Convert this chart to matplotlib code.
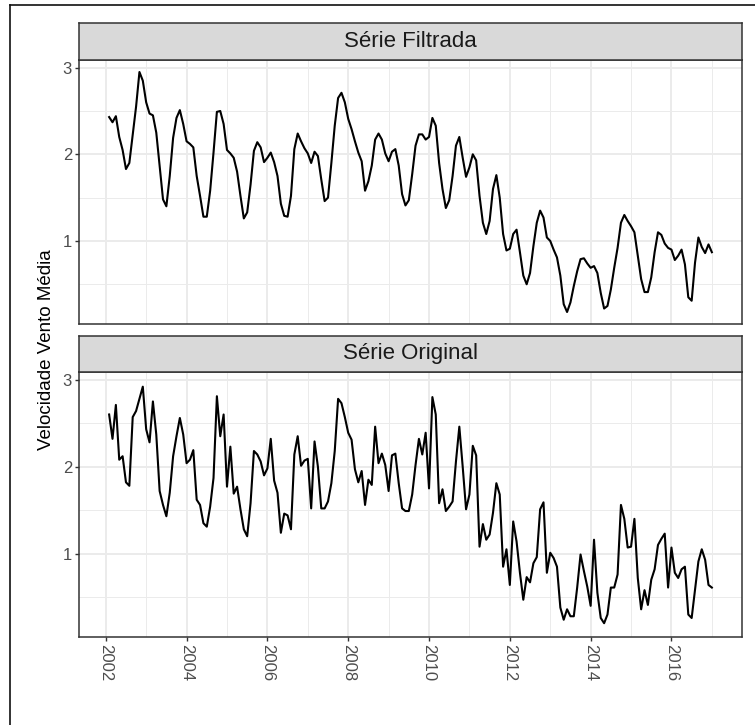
import matplotlib
matplotlib.use("Agg")
from matplotlib import pyplot as plt
from matplotlib.lines import Line2D
import numpy as np

plt.rcParams['font.family'] = ['Liberation Sans', 'DejaVu Sans']

# monthly mean wind speed, Jan 2002 .. Dec 2016
filtrada = [
    2.43, 2.37, 2.44, 2.20, 2.05, 1.83, 1.90, 2.23, 2.55, 2.95,
    2.85, 2.60, 2.47, 2.45, 2.25, 1.87, 1.48, 1.40, 1.75, 2.19,
    2.42, 2.51, 2.35, 2.15, 2.12, 2.08, 1.75, 1.52, 1.28, 1.28,
    1.58, 2.02, 2.49, 2.50, 2.35, 2.05, 2.01, 1.96, 1.80, 1.52,
    1.26, 1.33, 1.65, 2.04, 2.14, 2.08, 1.91, 1.96, 2.02, 1.91,
    1.75, 1.43, 1.29, 1.28, 1.52, 2.06, 2.24, 2.15, 2.07, 2.01,
    1.90, 2.03, 1.98, 1.71, 1.46, 1.50, 1.90, 2.33, 2.65, 2.71,
    2.60, 2.41, 2.29, 2.15, 2.02, 1.92, 1.58, 1.69, 1.87, 2.17,
    2.24, 2.17, 2.01, 1.92, 2.03, 2.06, 1.87, 1.54, 1.41, 1.47,
    1.77, 2.10, 2.23, 2.23, 2.17, 2.20, 2.42, 2.33, 1.90, 1.60,
    1.38, 1.47, 1.75, 2.10, 2.20, 1.96, 1.74, 1.85, 2.00, 1.93,
    1.52, 1.21, 1.08, 1.23, 1.60, 1.76, 1.50, 1.08, 0.89, 0.91,
    1.08, 1.13, 0.87, 0.60, 0.50, 0.63, 0.94, 1.21, 1.35, 1.27,
    1.04, 1.00, 0.90, 0.81, 0.60, 0.27, 0.18, 0.29, 0.48, 0.65,
    0.79, 0.80, 0.74, 0.69, 0.71, 0.63, 0.40, 0.22, 0.25, 0.44,
    0.69, 0.92, 1.21, 1.30, 1.23, 1.17, 1.10, 0.83, 0.56, 0.41,
    0.41, 0.58, 0.87, 1.10, 1.07, 0.97, 0.92, 0.90, 0.78, 0.83,
    0.90, 0.73, 0.35, 0.31, 0.75, 1.04, 0.93, 0.86, 0.96, 0.87,
]

original = [
    2.60, 2.32, 2.71, 2.08, 2.12, 1.82, 1.78, 2.57, 2.64, 2.78,
    2.92, 2.43, 2.28, 2.75, 2.37, 1.72, 1.56, 1.43, 1.70, 2.12,
    2.35, 2.56, 2.37, 2.04, 2.08, 2.19, 1.62, 1.56, 1.35, 1.31,
    1.54, 1.87, 2.81, 2.35, 2.60, 1.77, 2.23, 1.69, 1.77, 1.51,
    1.28, 1.20, 1.58, 2.18, 2.14, 2.06, 1.90, 1.98, 2.32, 1.84,
    1.70, 1.24, 1.46, 1.44, 1.28, 2.14, 2.35, 2.01, 2.07, 2.09,
    1.52, 2.29, 2.00, 1.52, 1.52, 1.60, 1.81, 2.18, 2.78, 2.73,
    2.57, 2.39, 2.31, 1.97, 1.82, 1.95, 1.56, 1.85, 1.79, 2.46,
    2.04, 2.15, 2.02, 1.72, 2.13, 2.15, 1.81, 1.52, 1.49, 1.49,
    1.68, 2.02, 2.32, 2.14, 2.39, 1.75, 2.80, 2.60, 1.58, 1.74,
    1.49, 1.54, 1.60, 2.06, 2.46, 2.00, 1.51, 1.68, 2.24, 2.13,
    1.08, 1.34, 1.16, 1.22, 1.47, 1.81, 1.68, 0.85, 1.05, 0.64,
    1.37, 1.14, 0.78, 0.47, 0.73, 0.67, 0.89, 0.96, 1.51, 1.59,
    0.78, 1.01, 0.95, 0.85, 0.38, 0.24, 0.36, 0.28, 0.28, 0.61,
    0.99, 0.80, 0.62, 0.40, 1.16, 0.55, 0.26, 0.20, 0.30, 0.61,
    0.61, 0.76, 1.56, 1.40, 1.07, 1.08, 1.40, 0.72, 0.36, 0.58,
    0.41, 0.70, 0.82, 1.10, 1.17, 1.23, 0.61, 1.07, 0.78, 0.72,
    0.82, 0.85, 0.30, 0.26, 0.59, 0.91, 1.05, 0.93, 0.64, 0.61,
]

paineis = ["Série Filtrada", "Série Original"]
anos_ticks = [2002, 2004, 2006, 2008, 2010, 2012, 2014, 2016]

# time axis: year + month/12
tempo = 2002 + np.arange(1, len(original) + 1) / 12

W, H = 755, 725
fig = plt.figure(figsize=(W / 100, H / 100), dpi=100)

def fx(px):
    return px / W

def fy(py):
    return 1 - py / H

# shared scales with 5% padding
allv = np.concatenate([filtrada, original])
lo, hi = allv.min(), allv.max()
ylim = (lo - 0.05 * (hi - lo), hi + 0.05 * (hi - lo))
xr = tempo[-1] - tempo[0]
xlim = (tempo[0] - 0.05 * xr, tempo[-1] + 0.05 * xr)

borda = "#333333"
grade = "#EBEBEB"

left, right = 79, 742
layout = [(23, 60, 324), (336, 372, 637)]  # strip top, panel top, panel bottom

for k, (serie, nome) in enumerate(zip([filtrada, original], paineis)):
    st, pt, pb = layout[k]
    ax = fig.add_axes([fx(left), fy(pb), fx(right - left), (pb - pt) / H])
    ax.plot(tempo, serie, color="black", lw=1.5)
    ax.set_xlim(xlim)
    ax.set_ylim(ylim)
    ax.set_yticks([1, 2, 3])
    ax.set_yticks([0.5, 1.5, 2.5], minor=True)
    ax.set_xticks(anos_ticks)
    ax.set_xticks([a + 1 for a in anos_ticks], minor=True)
    ax.grid(which="major", color=grade, lw=1.4)
    ax.grid(which="minor", color=grade, lw=0.7)
    ax.set_axisbelow(True)
    for s in ax.spines.values():
        s.set_color(borda)
        s.set_linewidth(1.1)
    ax.tick_params(which="minor", length=0)
    ax.tick_params(which="major", length=3, width=1.0, color=borda,
                   labelcolor="#4D4D4D", labelsize=12, pad=2)
    if k == 0:
        ax.tick_params(axis="x", which="major", length=0, labelbottom=False)
    else:
        ax.set_xticklabels([str(a) for a in anos_ticks], rotation=270,
                           va="top", ha="center")

    # facet strip
    sax = fig.add_axes([fx(left), fy(pt), fx(right - left), (pt - st) / H])
    sax.set_facecolor("#D9D9D9")
    sax.set_xticks([])
    sax.set_yticks([])
    for s in sax.spines.values():
        s.set_color(borda)
        s.set_linewidth(1.1)
    sax.text(0.5, 0.5, nome, ha="center", va="center", fontsize=16,
             color="#1A1A1A", transform=sax.transAxes)

fig.text(fx(47), fy(350), "Velocidade Vento Média", rotation=90,
         ha="center", va="center", fontsize=13.5, color="black")

# page frame around the figure
fig.add_artist(Line2D([fx(10), 1], [fy(4.5), fy(4.5)], color="#111111", lw=1.2))
fig.add_artist(Line2D([fx(10), fx(10)], [fy(4.5), 0], color="#111111", lw=1.2))

fig.savefig("out.png", dpi=100)
